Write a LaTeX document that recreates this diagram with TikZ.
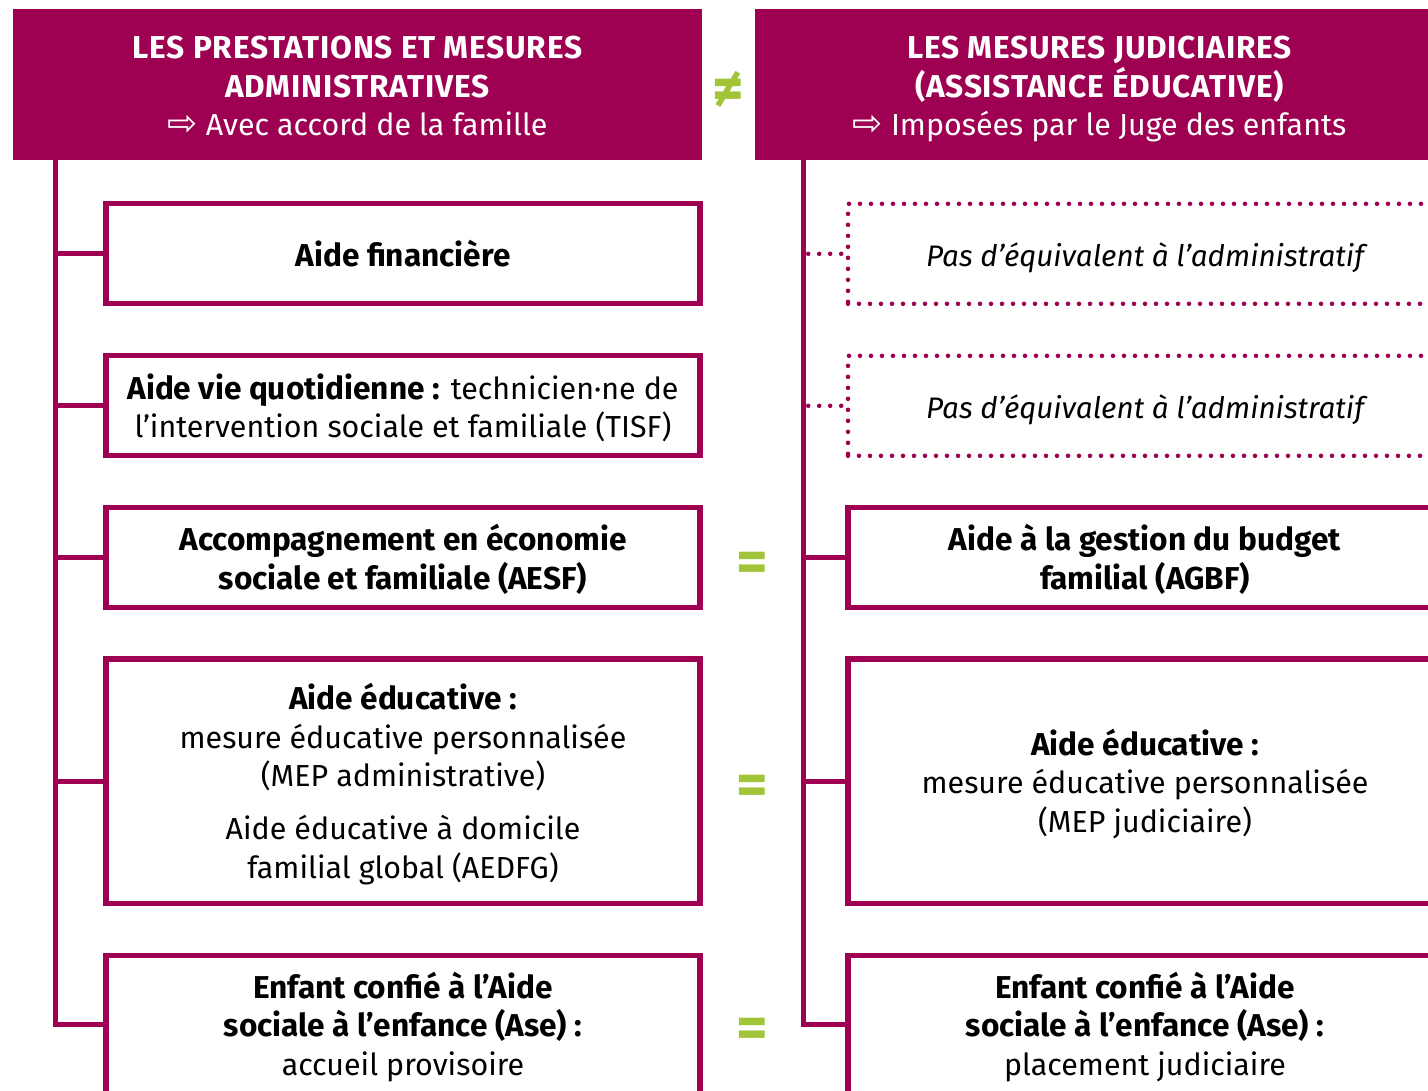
\documentclass[tikz,border=0pt]{standalone}
\usepackage{fontspec}
\setmainfont{Fira Sans}[BoldFeatures={Scale=1.04}, ItalicFeatures={Scale=0.975}]
\newfontfamily\arrowfont{DejaVu Sans}
\definecolor{prune}{RGB}{158,0,82}
\definecolor{vert}{RGB}{161,196,56}
\newcommand{\fleche}{{\arrowfont\fontsize{27pt}{28.9pt}\selectfont ⇨}}
\newcommand{\capsesp}[1]{{\bfseries\addfontfeatures{LetterSpace=2.5}#1}}
\newcommand{\hautl}{\rule{0pt}{27.7pt}}
\newcommand{\serre}{\lineskiplimit=-30pt\relax}

\tikzset{every picture/.style={line width=3.9pt}}
\tikzset{
  titre/.style={fill=prune, text=white, minimum width=516.75pt, minimum height=113.6pt, inner sep=0pt, align=center, font=\fontsize{22.8pt}{28.9pt}\selectfont\serre},
  cadre/.style={draw=prune, minimum width=445.5pt, inner sep=0pt, align=center, font=\fontsize{22.8pt}{28.9pt}\selectfont\serre},
  pointille/.style={line width=3.4pt, line cap=round, dash pattern=on 0pt off 8.25pt},
  egal/.style={text=vert, inner sep=0pt, font=\fontsize{44pt}{44pt}\selectfont\bfseries},
  trait/.style={draw=prune}
}

\begin{document}
\begin{tikzpicture}[x=0.75pt,y=0.75pt,yscale=-1,xscale=1]
\useasboundingbox (0,0) rectangle (1428,1091);

%Straight Lines: spines
\coordinate (axeG) at (55.5,160);
\coordinate (axeD) at (803.7,160);

% Left boxes
\node[cadre, minimum height=75pt] (g1) at (403,253.8) {\hautl\textbf{Aide financière}\strut};
\node[cadre, minimum height=75pt] (g2) at (403,405.8) {\hautl\textbf{Aide vie quotidienne :} technicien·ne de\\l’intervention sociale et familiale (TISF)\strut};
\node[cadre, minimum height=75pt] (g3) at (403,557.5) {\hautl\textbf{Accompagnement en économie}\\\textbf{sociale et familiale (AESF)}\strut};
\node[cadre, minimum height=183.4pt] (g4) at (403,781.3) {\hautl\textbf{Aide éducative :}\\mesure éducative personnalisée\\(MEP administrative)\\[10.5pt]Aide éducative à domicile\\familial global (AEDFG)\strut};
\node[cadre, minimum height=103.5pt] (g5) at (403,1024.2) {\hautl\textbf{Enfant confié à l’Aide}\\\textbf{sociale à l’enfance (Ase) :}\\accueil provisoire\strut};

% Right boxes
\node[cadre, pointille, minimum height=75pt] (d1) at (1145,253.8) {\hautl\itshape Pas d’équivalent à l’administratif\strut};
\node[cadre, pointille, minimum height=75pt] (d2) at (1145,405.8) {\hautl\itshape Pas d’équivalent à l’administratif\strut};
\node[cadre, minimum height=75pt] (d3) at (1145,557.5) {\hautl\textbf{Aide à la gestion du budget}\\\textbf{familial (AGBF)}\strut};
\node[cadre, minimum height=183.4pt] (d4) at (1145,781.3) {\hautl\textbf{Aide éducative :}\\mesure éducative personnalisée\\(MEP judiciaire)\strut};
\node[cadre, minimum height=103.5pt] (d5) at (1145,1024.2) {\hautl\textbf{Enfant confié à l’Aide}\\\textbf{sociale à l’enfance (Ase) :}\\placement judiciaire\strut};

%Straight Lines
\draw[trait] (axeG) |- (g5.west);
\foreach \b in {g1,g2,g3,g4}
  \draw[trait] (axeG |- \b.west) -- (\b.west);
\draw[trait] (axeD) |- (d5.west);
\foreach \b in {d3,d4}
  \draw[trait] (axeD |- \b.west) -- (\b.west);
\foreach \b in {d1,d2}
  \draw[trait, pointille] (axeD |- \b.west) ++(4.5,0) -- (\b.west);

% Headers
\node[titre] (titreG) at (357.5,84.75) {\hautl\capsesp{LES PRESTATIONS ET MESURES}\\\capsesp{ADMINISTRATIVES}\\\fleche{} Avec accord de la famille\strut};
\node[titre] (titreD) at (1099.5,84.75) {\hautl\capsesp{LES MESURES JUDICIAIRES}\\\capsesp{(ASSISTANCE ÉDUCATIVE)}\\\fleche{} Imposées par le Juge des enfants\strut};

% Text Node: signs
\node[egal] (diff) at (728,90) {≠};
\node[egal] (eg1) at (752,567) {=};
\node[egal] (eg2) at (752,790) {=};
\node[egal] (eg3) at (752,1033) {=};

\end{tikzpicture}
\end{document}
